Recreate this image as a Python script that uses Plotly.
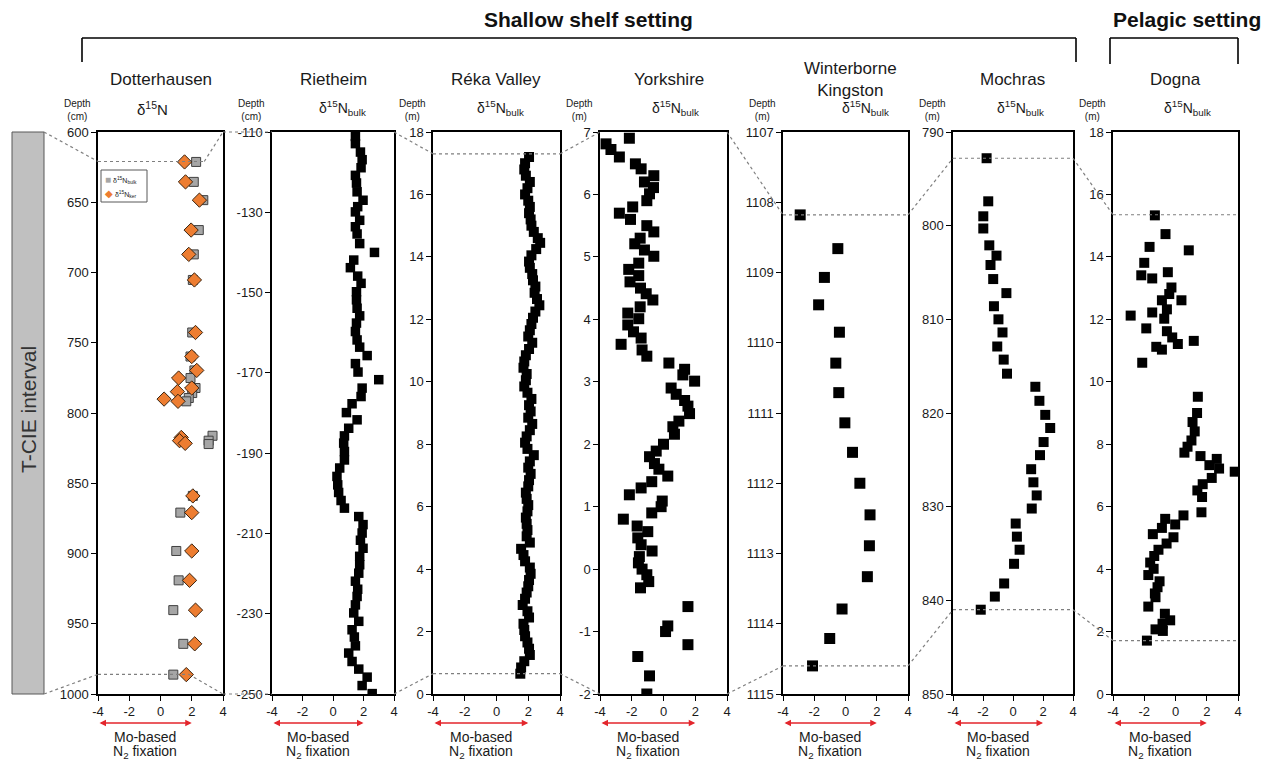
import plotly.graph_objects as go

W, H = 1271, 761
FONT = "Arial, 'Liberation Sans', sans-serif"

# ------------------------- data -------------------------
dott_bulk_depth = [621.3, 635.5, 648.5, 669.8, 687.1, 705.3, 742.7, 759.8, 769.7, 775.1, 782.2, 785.8, 789.3, 791.7,
                   816.2, 819.7, 822.1, 859.0, 870.9, 898.2, 919.1, 940.3, 964.3, 986.2]
dott_bulk_d15n = [2.28, 2.13, 2.74, 2.45, 2.13, 2.07, 2.03, 1.92, 2.17, 1.92, 2.24, 2.03, 1.81, 1.65,
                  3.33, 3.08, 3.08, 2.07, 1.27, 1.01, 1.16, 0.82, 1.46, 0.82]
dott_ker_depth = [621.3, 635.5, 648.5, 669.8, 687.1, 705.3, 742.7, 759.8, 769.7, 775.1, 782.2, 784.8, 790.1, 791.7,
                  817.4, 819.7, 821.6, 859.0, 870.9, 898.2, 919.1, 940.3, 964.3, 986.2]
dott_ker_d15n = [1.54, 1.60, 2.49, 1.96, 1.81, 2.17, 2.24, 2.00, 2.32, 1.16, 2.00, 1.08, 0.23, 1.12,
                 1.33, 1.22, 1.58, 2.07, 2.00, 2.00, 1.86, 2.24, 2.19, 1.65]

riet_depth = [-111.1, -112.9, -115.0, -116.9, -118.9, -120.8, -122.7, -124.9, -127.0, -128.6, -129.9, -132.0,
              -133.6, -135.4, -137.8, -140.0, -141.9, -143.8, -145.9, -147.7, -149.8, -151.8, -153.9, -155.8,
              -157.6, -159.7, -161.8, -163.6, -165.7, -167.7, -169.8, -171.7, -173.8, -175.9, -177.7, -179.9,
              -181.7, -183.8, -185.7, -187.5, -189.6, -191.7, -193.7, -195.8, -197.9, -199.8, -201.8, -203.7,
              -205.8, -207.8, -209.9, -211.7, -213.7, -215.7, -217.8, -219.9, -221.9, -223.9, -225.7, -227.8,
              -229.8, -231.9, -234.0, -235.8, -238.0, -239.8, -241.9, -243.8, -245.8, -247.9, -249.9]
riet_d15n = [1.47, 1.47, 1.80, 1.91, 1.84, 1.47, 1.54, 1.58, 1.97, 1.62, 1.47, 1.75,
             1.47, 1.58, 1.75, 2.72, 1.36, 1.14, 1.62, 1.84, 1.54, 1.54, 1.58, 1.75,
             1.54, 1.47, 1.58, 1.75, 2.24, 1.47, 1.64, 3.00, 1.91, 1.84, 1.25, 0.88,
             1.58, 1.03, 0.75, 0.70, 0.75, 0.75, 0.44, 0.26, 0.31, 0.37, 0.53, 0.75,
             1.69, 1.97, 1.91, 1.80, 1.97, 1.75, 1.75, 1.69, 1.47, 1.62, 1.58, 1.47,
             1.36, 1.69, 1.25, 1.40, 1.47, 1.03, 1.25, 1.69, 2.24, 1.91, 2.57]

reka_depth = [17.20, 17.00, 16.80, 16.60, 16.40, 16.20, 16.00, 15.80, 15.60, 15.40, 15.20, 15.00, 14.80, 14.60,
              14.45, 14.25, 14.05, 13.85, 13.65, 13.45, 13.25, 13.05, 12.85, 12.65, 12.45, 12.25, 12.05, 11.85,
              11.65, 11.45, 11.25, 11.05, 10.85, 10.65, 10.45, 10.25, 10.05, 9.85, 9.65, 9.45, 9.25, 9.05,
              8.85, 8.65, 8.45, 8.25, 8.05, 7.85, 7.65, 7.45, 7.25, 7.05, 6.85, 6.65, 6.45, 6.25, 6.05,
              5.85, 5.65, 5.45, 5.25, 5.05, 4.85, 4.65, 4.45, 4.25, 4.05, 3.85, 3.65, 3.45, 3.25, 3.05,
              2.85, 2.65, 2.45, 2.25, 2.05, 1.85, 1.65, 1.45, 1.25, 1.05, 0.85, 0.65]
reka_d15n = [2.05, 1.80, 1.75, 1.85, 2.10, 1.95, 1.80, 2.00, 2.10, 2.05, 2.15, 2.20, 2.35, 2.60,
             2.75, 2.50, 2.20, 2.05, 2.10, 2.25, 2.30, 2.45, 2.40, 2.55, 2.70, 2.45, 2.30, 2.20,
             2.10, 2.00, 2.25, 2.05, 1.85, 1.75, 1.70, 1.90, 1.85, 1.75, 1.95, 2.20, 2.05, 2.15,
             2.00, 2.25, 2.10, 1.90, 1.80, 1.95, 2.35, 2.10, 2.00, 2.15, 2.05, 2.00, 1.85, 1.90, 2.00,
             1.95, 1.85, 1.90, 1.95, 1.90, 2.10, 1.55, 1.70, 1.80, 2.10, 2.15, 2.05, 2.00, 1.90, 1.80,
             1.65, 1.95, 2.05, 1.70, 1.75, 1.80, 1.95, 2.05, 2.10, 1.75, 1.55, 1.50]

york_depth = [6.90, 6.81, 6.72, 6.60, 6.49, 6.41, 6.30, 6.20, 6.11, 6.01, 5.90, 5.80, 5.70, 5.60, 5.50, 5.40,
              5.30, 5.21, 5.11, 5.01, 4.90, 4.80, 4.70, 4.60, 4.50, 4.41, 4.31, 4.20, 4.10, 4.01, 3.91, 3.80,
              3.70, 3.60, 3.51, 3.41, 3.30, 3.20, 3.11, 3.01, 2.90, 2.80, 2.70, 2.61, 2.49, 2.37, 2.28, 2.16,
              2.00, 1.89, 1.80, 1.69, 1.60, 1.49, 1.40, 1.30, 1.19, 1.09, 1.00, 0.90, 0.80, 0.69, 0.60, 0.50,
              0.39, 0.29, 0.20, 0.10, 0.00, -0.09, -0.20, -0.30, -0.60, -0.91, -1.00, -1.21, -1.40, -1.71, -2.00]
york_d15n = [-2.15, -3.62, -3.31, -2.78, -1.77, -1.41, -0.61, -1.20, -0.63, -0.88, -1.05, -1.94, -2.78, -2.08,
             -1.05, -0.61, -1.47, -1.81, -1.20, -0.61, -1.56, -2.19, -1.56, -2.11, -1.45, -1.09, -0.67, -1.47,
             -2.25, -1.56, -2.25, -1.89, -1.41, -2.67, -1.35, -1.05, 0.34, 1.33, 1.22, 1.96, 0.48, 0.80, 1.33,
             1.54, 1.64, 0.97, 0.59, 0.69, 0.00, -0.46, -0.88, -0.57, -0.29, 0.27, -0.74, -1.41, -2.15, -0.08,
             -0.15, -0.74, -2.53, -1.66, -0.99, -1.62, -1.41, -0.72, -1.52, -1.58, -1.35, -1.05, -0.93, -1.45,
             1.54, 0.27, 0.13, 1.54, -1.62, -0.88, -1.05]

wint_depth = [1108.18, 1108.66, 1109.07, 1109.46, 1109.85, 1110.29, 1110.71, 1111.14, 1111.56, 1112.00,
              1112.45, 1112.89, 1113.33, 1113.79, 1114.21, 1114.60]
wint_d15n = [-2.90, -0.49, -1.35, -1.72, -0.39, -0.62, -0.43, -0.04, 0.45, 0.92,
             1.57, 1.53, 1.40, -0.22, -1.01, -2.11]

moch_depth = [792.8, 797.4, 799.0, 800.3, 802.1, 803.2, 804.2, 805.7, 807.2, 808.6, 810.0, 811.4, 812.9, 814.3,
              815.8, 817.2, 818.7, 820.2, 821.6, 823.1, 824.5, 826.0, 827.4, 828.8, 830.2, 831.8, 833.2, 834.6,
              836.1, 838.2, 839.6, 841.0]
moch_d15n = [-1.76, -1.65, -1.98, -1.98, -1.58, -1.10, -1.50, -1.32, -0.44, -1.27, -0.97, -0.70, -1.05, -0.62,
             -0.40, 1.49, 1.76, 2.15, 2.48, 2.04, 1.80, 1.21, 1.36, 1.58, 1.25, 0.18, 0.26, 0.44,
             0.07, -0.59, -1.21, -2.15]

dogna_depth = [15.33, 14.73, 14.32, 14.21, 13.81, 13.51, 13.41, 13.31, 13.02, 12.81, 12.61, 12.61, 12.32, 12.12,
               12.22, 12.02, 11.71, 11.62, 11.42, 11.21, 11.31, 11.12, 11.03, 10.61, 9.52, 9.00, 8.71, 8.41,
               8.12, 7.92, 7.73, 7.62, 7.53, 7.33, 7.22, 7.12, 6.92, 6.72, 6.52, 6.31, 5.82, 5.72, 5.61, 5.43,
               5.32, 5.12, 5.02, 4.82, 4.62, 4.42, 4.21, 4.01, 3.81, 3.61, 3.42, 3.22, 3.10, 2.80, 2.57, 2.36,
               2.25, 2.07, 2.02, 1.71]
dogna_d15n = [-1.32, -0.64, -1.66, 0.85, -2.00, -0.49, -2.19, -1.49, -0.26, -0.40, 0.38, -0.87, -0.55, -2.87,
              -1.49, -0.72, -1.87, -0.55, -0.21, 0.15, 1.17, -1.23, -0.87, -2.13, 1.43, 1.38, 1.09, 1.23,
              1.02, 0.77, 0.57, 1.60, 2.64, 2.17, 2.79, 3.79, 2.32, 1.74, 1.40, 1.70, 1.66, 0.51, -0.66, -0.02,
              -0.87, -1.45, -0.13, -0.57, -1.09, -1.36, -1.62, -1.40, -1.74, -1.02, -1.15, -1.32, -1.28, -1.74,
              -0.68, -0.34, -0.83, -1.28, -0.81, -1.83]

# T-CIE boundaries (top, base) per section
tcie_top = [621.0, -110.0, 17.3, 7.0, 1108.18, 792.8, 15.35]
tcie_base = [986.0, -250.0, 0.65, -2.0, 1114.60, 841.0, 1.71]

site_names = ["Dotterhausen", "Rietheim", "Réka Valley", "Yorkshire", "Winterborne<br>Kingston", "Mochras", "Dogna"]
depth_units = ["Depth<br>(cm)", "Depth<br>(cm)", "Depth<br>(m)", "Depth<br>(m)", "Depth<br>(m)", "Depth<br>(m)", "Depth<br>(m)"]
headers = ["δ<sup>15</sup>N"] + ["δ<sup>15</sup>N<sub>bulk</sub>"] * 6

y_ticks = [
    [600, 650, 700, 750, 800, 850, 900, 950, 1000],
    [-110, -130, -150, -170, -190, -210, -230, -250],
    [0, 2, 4, 6, 8, 10, 12, 14, 16, 18],
    [-2, -1, 0, 1, 2, 3, 4, 5, 6, 7],
    [1107, 1108, 1109, 1110, 1111, 1112, 1113, 1114, 1115],
    [790, 800, 810, 820, 830, 840, 850],
    [0, 2, 4, 6, 8, 10, 12, 14, 16, 18],
]
y_top_bottom = [(600, 1000), (-110, -250), (18, 0), (7, -2), (1107, 1115), (790, 850), (18, 0)]
x_ticks = [-4, -2, 0, 2, 4]
x_ticktext = ["-4", "-2", "0", "2", "4"]

# ------------------------- layout geometry -------------------------
px_lr = [(98, 223), (272, 394), (433, 560), (600, 727), (783, 908), (953, 1073), (1113, 1238)]
title_dx = [0, 0, -1, 5, 5, -1, 0]
header_dx = [-8, 10, 4, 12, 20, 7, 12]
TOP, BOT = 132, 694


def X(px):
    return px / W


def Y(py):
    return 1 - py / H


def ypx(i, v):
    vt, vb = y_top_bottom[i]
    return TOP + (v - vt) / (vb - vt) * (BOT - TOP)


fig = go.Figure()

BLACK_SQ = dict(symbol="square", color="black", line=dict(width=0))
series = [
    (1, riet_d15n, riet_depth, 9.5),
    (2, reka_d15n, reka_depth, 10),
    (3, york_d15n, york_depth, 11),
    (4, wint_d15n, wint_depth, 11),
    (5, moch_d15n, moch_depth, 10),
    (6, dogna_d15n, dogna_depth, 10),
]


def ax(i):
    return ("x" if i == 0 else f"x{i+1}"), ("y" if i == 0 else f"y{i+1}")


fig.add_trace(go.Scatter(x=dott_bulk_d15n, y=dott_bulk_depth, mode="markers", xaxis="x", yaxis="y",
                         marker=dict(symbol="square", size=9, color="#a6a6a6", line=dict(color="#404040", width=1)),
                         showlegend=False))
fig.add_trace(go.Scatter(x=dott_ker_d15n, y=dott_ker_depth, mode="markers", xaxis="x", yaxis="y",
                         marker=dict(symbol="diamond", size=11, color="#ed7d31", line=dict(color="#3a2410", width=1)),
                         showlegend=False))
for i, xs, ys, sz in series:
    xa, ya = ax(i)
    fig.add_trace(go.Scatter(x=xs, y=ys, mode="markers", xaxis=xa, yaxis=ya,
                             marker=dict(size=sz, **BLACK_SQ), showlegend=False))

layout = dict(width=W, height=H, autosize=False, margin=dict(l=0, r=0, t=0, b=0, pad=0),
              template="none",
              paper_bgcolor="white", plot_bgcolor="white", showlegend=False,
              font=dict(family=FONT, color="#1a1a1a"))

for i in range(7):
    l, r = px_lr[i]
    sx = "" if i == 0 else str(i + 1)
    layout["xaxis" + sx] = dict(domain=[X(l), X(r)], anchor="y" + sx, range=[-4, 4], automargin=False,
                                tickvals=x_ticks, ticktext=x_ticktext, ticks="outside", ticklen=5,
                                tickwidth=1.2, tickcolor="black", showline=True, linecolor="black",
                                linewidth=1.5, mirror=True, showgrid=False, zeroline=False,
                                tickfont=dict(size=13, family=FONT, color="#1a1a1a"), fixedrange=True)
    vt, vb = y_top_bottom[i]
    layout["yaxis" + sx] = dict(domain=[Y(BOT), Y(TOP)], anchor="x" + sx, range=[vb, vt], automargin=False,
                                tickvals=y_ticks[i], ticktext=[str(t) for t in y_ticks[i]],
                                ticks="outside", ticklen=5, tickwidth=1.2, tickcolor="black",
                                showline=True, linecolor="black", linewidth=1.5, mirror=True,
                                showgrid=False, zeroline=False,
                                tickfont=dict(size=13, family=FONT, color="#1a1a1a"), fixedrange=True)

shapes = []
annotations = []
DOT = dict(color="#7f7f7f", width=1.2, dash="dot")


def note(text, x, y, size, xref="paper", **kw):
    d = dict(text=text, xref=xref, yref="paper", x=x, y=y, showarrow=False, xanchor="center",
             yanchor="middle", font=dict(size=size, color=kw.pop("color", "#1a1a1a")))
    d.update(kw)
    annotations.append(d)


# grey T-CIE bar
shapes.append(dict(type="rect", xref="paper", yref="paper", x0=X(12), x1=X(44), y0=Y(BOT), y1=Y(TOP),
                   fillcolor="#c0c0c0", line=dict(color="#595959", width=1), layer="below"))
note("T-CIE interval", X(28), Y(410), 21, textangle=-90, color="#333333")

# horizontal boundary lines inside panels
for i in [2, 4, 5, 6]:
    xa, ya = ax(i)
    for v in (tcie_top[i], tcie_base[i]):
        shapes.append(dict(type="line", xref=xa + " domain", yref=ya, x0=0, x1=1, y0=v, y1=v, line=DOT))
# Dotterhausen: horizontal then diagonal to corners
shapes.append(dict(type="line", xref="x", yref="y", x0=-4, x1=2.8, y0=tcie_top[0], y1=tcie_top[0], line=DOT))
shapes.append(dict(type="line", xref="x", yref="y", x0=2.8, x1=4, y0=tcie_top[0], y1=600, line=DOT))
shapes.append(dict(type="line", xref="x", yref="y", x0=-4, x1=1.8, y0=tcie_base[0], y1=tcie_base[0], line=DOT))
shapes.append(dict(type="line", xref="x", yref="y", x0=1.8, x1=4, y0=tcie_base[0], y1=1000, line=DOT))


def seg(x0, y0, x1, y1, line=DOT):
    shapes.append(dict(type="line", xref="paper", yref="paper", x0=X(x0), y0=Y(y0), x1=X(x1), y1=Y(y1), line=line))


# grey bar to Dotterhausen
seg(44, TOP, px_lr[0][0], ypx(0, tcie_top[0]))
seg(44, BOT, px_lr[0][0], ypx(0, tcie_base[0]))
# Dotterhausen corner to Rietheim
seg(px_lr[0][1], TOP, px_lr[1][0], ypx(1, tcie_top[1]))
seg(px_lr[0][1], BOT, px_lr[1][0], ypx(1, tcie_base[1]))
for i in range(1, 6):
    seg(px_lr[i][1], ypx(i, tcie_top[i]), px_lr[i + 1][0], ypx(i + 1, tcie_top[i + 1]))
    seg(px_lr[i][1], ypx(i, tcie_base[i]), px_lr[i + 1][0], ypx(i + 1, tcie_base[i + 1]))

# header brackets
BR = dict(color="black", width=1.6)
for a in [(82, 62, 82, 38), (82, 38, 1076, 38), (1076, 38, 1076, 62),
          (1110, 64, 1110, 38), (1110, 38, 1238, 38), (1238, 38, 1238, 64)]:
    seg(*a, line=BR)
note("<b>Shallow shelf setting</b>", X(588), Y(20), 21, color="#111111")
note("<b>Pelagic setting</b>", X(1187), Y(20), 21, color="#111111")

for i in range(7):
    l, r = px_lr[i]
    c = (l + r) / 2
    xa, ya = ax(i)
    note(site_names[i], X(c + title_dx[i]), Y(79), 17)
    note(depth_units[i], X(l - 21), Y(110), 10)
    note(headers[i], X(c + header_dx[i]), Y(108), 15 if i == 0 else 14)
    # red double arrow
    annotations.append(dict(text="", xref=xa, yref="paper", x=2, y=Y(723), axref=xa, ax=-4, ayref="pixel", ay=0,
                            showarrow=True, arrowhead=2, startarrowhead=2, arrowside="end+start",
                            arrowsize=1, startarrowsize=1, arrowwidth=1.3, arrowcolor="#e3262c"))
    note("Mo-based", -1, Y(737), 14, xref=xa)
    note("N<sub>2</sub> fixation", -1, Y(752), 14, xref=xa)

# Dotterhausen legend box
shapes.append(dict(type="rect", xref="paper", yref="paper", x0=X(101), x1=X(147), y0=Y(202), y1=Y(170),
                   line=dict(color="#595959", width=1), fillcolor="white"))
note("<span style='color:#a6a6a6;font-size:10px'>■</span> δ<sup>15</sup>N<sub>bulk</sub>", X(103), Y(179), 7,
     xanchor="left")
note("<span style='color:#ed7d31;font-size:10px'>◆</span> δ<sup>15</sup>N<sub>ker</sub>", X(103), Y(193), 7,
     xanchor="left")

layout["shapes"] = shapes
layout["annotations"] = annotations
fig.update_layout(**layout)

fig.write_html("out.html", config={"displayModeBar": False},
               post_script="document.body.style.margin='0';document.body.style.overflow='hidden';")
